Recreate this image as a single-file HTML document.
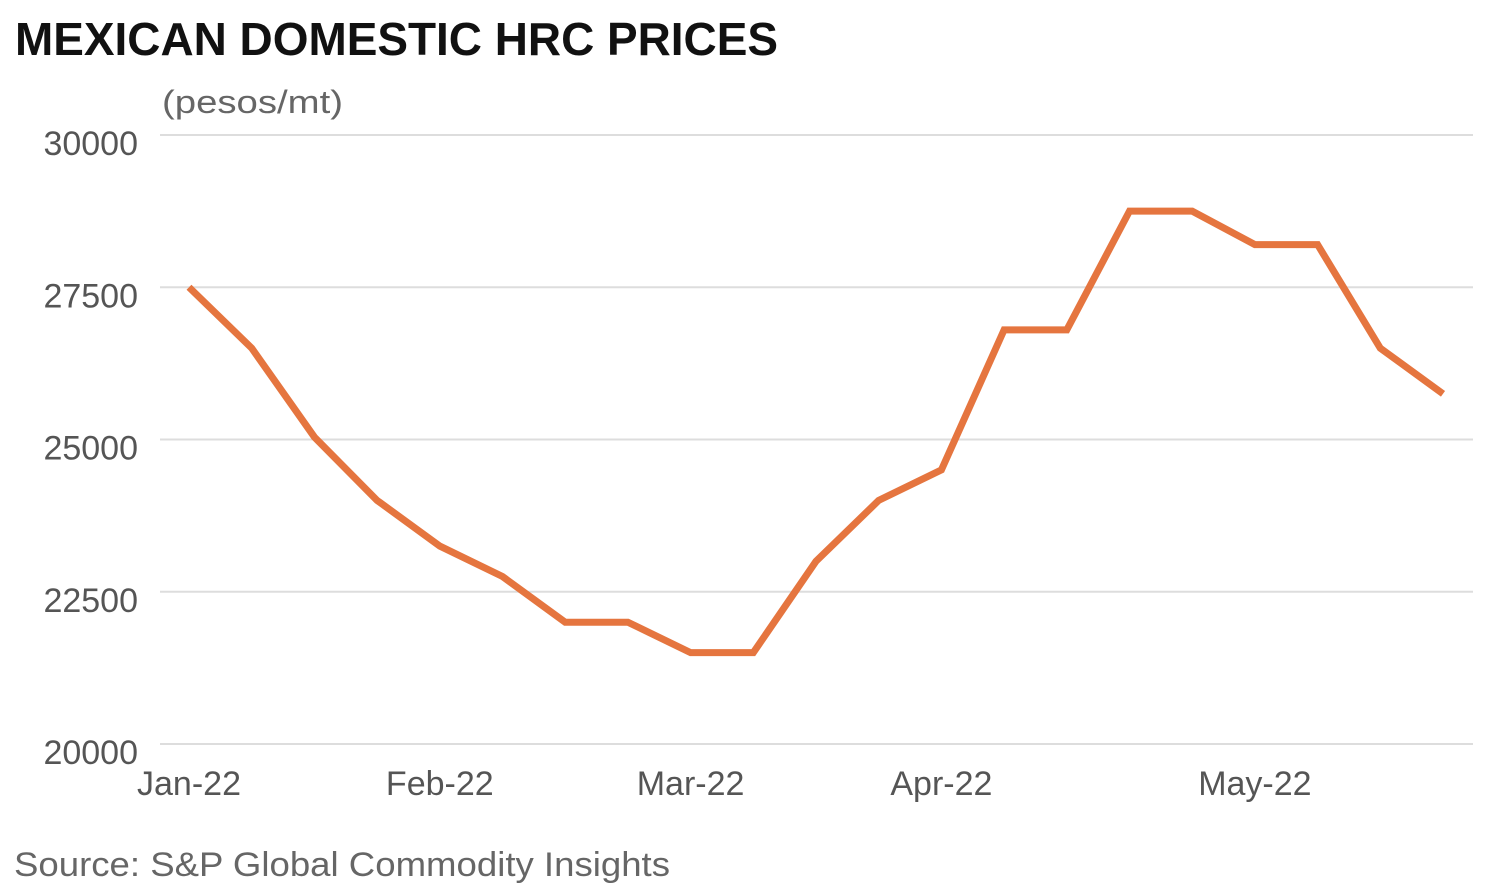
<!DOCTYPE html>
<html><head><meta charset="utf-8"><style>
html,body{margin:0;padding:0;background:#fff;}
svg{display:block;font-family:"Liberation Sans",sans-serif;}
</style></head><body>
<svg id="chart" width="1490" height="888" viewBox="0 0 1490 888">
<text x="15" y="55" font-size="46" font-weight="bold" fill="#111" textLength="763" lengthAdjust="spacingAndGlyphs">MEXICAN DOMESTIC HRC PRICES</text>
<text x="162" y="113" font-size="32" fill="#666" textLength="181" lengthAdjust="spacingAndGlyphs">(pesos/mt)</text>
<g id="grid"></g><g id="ylabels"></g><g id="xlabels"></g><g id="series"></g>
<text x="14" y="876" font-size="34" fill="#666" textLength="656" lengthAdjust="spacingAndGlyphs">Source: S&amp;P Global Commodity Insights</text>
</svg>
<script>
const prices=[27500,26500,25040,24000,23250,22750,22000,22000,21500,21500,23000,24000,24500,26800,26800,28750,28750,28200,28200,26500,25750];
const yTicks=[20000,22500,25000,27500,30000];
const xTickLabels=["Jan-22","Feb-22","Mar-22","Apr-22","May-22"];
const xTickIndex=[0,4,8,12,17];
const NS="http://www.w3.org/2000/svg";
function y(v){return 744-(v-20000)/10000*609;}
function x(i){return 189+i*(1443-189)/(prices.length-1);}
function mk(tag,attrs,parent,text){const e=document.createElementNS(NS,tag);for(const k in attrs)e.setAttribute(k,attrs[k]);if(text!==undefined)e.textContent=text;document.getElementById(parent).appendChild(e);return e;}
yTicks.forEach(v=>{
 const l=mk("line",{x1:160,x2:1473,y1:y(v),y2:y(v),stroke:"#ddd","stroke-width":2},"grid");
 
 
 const t=mk("text",{x:138,y:y(v)+20,"font-size":34,fill:"#555","text-anchor":"end"},"ylabels",String(v));
 
 
});
xTickLabels.forEach((s,k)=>{
 const t=mk("text",{x:x(xTickIndex[k]),y:795,"font-size":34,fill:"#555","text-anchor":"middle"},"xlabels",s);
 
 
});
const p=mk("polyline",{points:prices.map((v,i)=>x(i)+","+y(v)).join(" "),fill:"none",stroke:"#e5753f","stroke-width":7,"stroke-linejoin":"miter"},"series");


</script>
</body></html>
